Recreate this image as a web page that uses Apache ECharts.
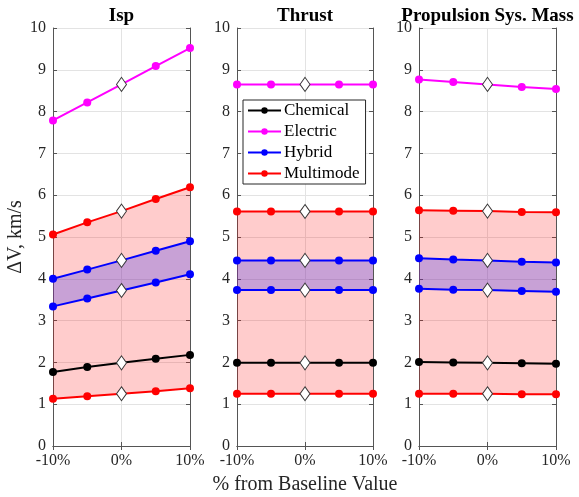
<!DOCTYPE html>
<html>
<head>
<meta charset="utf-8">
<script src="https://cdn.jsdelivr.net/npm/echarts@6/dist/echarts.min.js"></script>
<style>html,body{margin:0;padding:0;background:#fff;}#c{width:579px;height:497px;}</style>
</head>
<body>
<div id="c"></div>
<script>
// ---- data ----
const xCats = ['-10%', '-5%', '0%', '5%', '10%'];
const panelTitles = ['Isp', 'Thrust', 'Propulsion Sys. Mass'];
const yTicks = [0, 1, 2, 3, 4, 5, 6, 7, 8, 9, 10];

// Isp
const ispChemical = [1.77, 1.89, 1.99, 2.09, 2.18];
const ispElectric = [7.79, 8.22, 8.65, 9.09, 9.52];
const ispHybridHi = [4.00, 4.22, 4.44, 4.67, 4.90];
const ispHybridLo = [3.34, 3.53, 3.72, 3.91, 4.11];
const ispMultiHi = [5.06, 5.35, 5.62, 5.91, 6.19];
const ispMultiLo = [1.13, 1.19, 1.25, 1.31, 1.38];

// Thrust
const thrChemical = [1.99, 1.99, 1.99, 1.99, 1.99];
const thrElectric = [8.65, 8.65, 8.65, 8.65, 8.65];
const thrHybridHi = [4.44, 4.44, 4.44, 4.44, 4.44];
const thrHybridLo = [3.73, 3.73, 3.73, 3.73, 3.73];
const thrMultiHi = [5.61, 5.61, 5.61, 5.61, 5.61];
const thrMultiLo = [1.25, 1.25, 1.25, 1.25, 1.25];

// Propulsion Sys. Mass
const masChemical = [2.01, 2.00, 1.99, 1.98, 1.97];
const masElectric = [8.77, 8.71, 8.65, 8.59, 8.54];
const masHybridHi = [4.49, 4.46, 4.44, 4.41, 4.39];
const masHybridLo = [3.76, 3.74, 3.73, 3.71, 3.69];
const masMultiHi = [5.64, 5.63, 5.62, 5.60, 5.59];
const masMultiLo = [1.25, 1.25, 1.25, 1.24, 1.24];

const panels = [
  {chem: ispChemical, elec: ispElectric, hyHi: ispHybridHi, hyLo: ispHybridLo, mmHi: ispMultiHi, mmLo: ispMultiLo},
  {chem: thrChemical, elec: thrElectric, hyHi: thrHybridHi, hyLo: thrHybridLo, mmHi: thrMultiHi, mmLo: thrMultiLo},
  {chem: masChemical, elec: masElectric, hyHi: masHybridHi, hyLo: masHybridLo, mmHi: masMultiHi, mmLo: masMultiLo}
];

// ---- layout / style ----
const FONT = 'Liberation Serif';
const grids = [
  {left: 53, width: 137, top: 28, height: 418},
  {left: 237, width: 136, top: 28, height: 418},
  {left: 419, width: 137, top: 28, height: 418}
];
const colors = {Chemical: '#000000', Electric: '#ff00ff', Hybrid: '#0000ff', Multimode: '#ff0000'};
const frame = '#555555';
const txt = '#262626';

const xAxes = [], yAxes = [], series = [];
grids.forEach((g, i) => {
  xAxes.push({
    type: 'category', gridIndex: i, data: xCats, boundaryGap: false, position: 'bottom',
    axisLine: {show: true, lineStyle: {color: frame, width: 1}},
    axisTick: {show: true, inside: true, interval: 1, length: 4, lineStyle: {color: frame}},
    axisLabel: {interval: 1, color: txt, fontFamily: FONT, fontSize: 16, margin: 7},
    splitLine: {show: true, interval: 1, lineStyle: {color: '#e3e3e3', width: 1}},
    name: i === 1 ? '% from Baseline Value' : '', nameLocation: 'middle', nameGap: 29,
    nameTextStyle: {color: txt, fontFamily: FONT, fontSize: 20}
  });
  xAxes.push({
    type: 'category', gridIndex: i, data: xCats, boundaryGap: false, position: 'top',
    axisLine: {show: true, lineStyle: {color: frame, width: 1}},
    axisTick: {show: true, inside: true, interval: 1, length: 4, lineStyle: {color: frame}},
    axisLabel: {show: false}, splitLine: {show: false}
  });
  yAxes.push({
    type: 'value', gridIndex: i, min: yTicks[0], max: yTicks[yTicks.length - 1], interval: 1, position: 'left',
    axisLine: {show: true, lineStyle: {color: frame, width: 1}},
    axisTick: {show: true, inside: true, length: 4, lineStyle: {color: frame}},
    axisLabel: {color: txt, fontFamily: FONT, fontSize: 16, margin: 7},
    splitLine: {show: true, lineStyle: {color: '#e3e3e3', width: 1}},
    name: i === 0 ? 'ΔV, km/s' : '', nameLocation: 'middle', nameGap: 25, nameRotate: 90,
    nameTextStyle: {color: txt, fontFamily: FONT, fontSize: 20}
  });
  yAxes.push({
    type: 'value', gridIndex: i, min: yTicks[0], max: yTicks[yTicks.length - 1], interval: 1, position: 'right',
    axisLine: {show: true, lineStyle: {color: frame, width: 1}},
    axisTick: {show: true, inside: true, length: 4, lineStyle: {color: frame}},
    axisLabel: {show: false}, splitLine: {show: false}
  });
});

function diff(a, b) { return a.map((v, k) => +(v - b[k]).toFixed(4)); }

panels.forEach((p, i) => {
  const xi = i * 2, yi = i * 2;
  const hidden = {lineStyle: {opacity: 0}, showSymbol: false, symbol: 'none', silent: true, z: 1};
  series.push(Object.assign({type: 'line', name: 'mmBase' + i, xAxisIndex: xi, yAxisIndex: yi, stack: 'mm' + i, data: p.mmLo}, hidden));
  series.push(Object.assign({type: 'line', name: 'mmBand' + i, xAxisIndex: xi, yAxisIndex: yi, stack: 'mm' + i, data: diff(p.mmHi, p.mmLo), areaStyle: {color: 'rgba(255,0,0,0.2)', opacity: 1}}, hidden));
  series.push(Object.assign({type: 'line', name: 'hyBase' + i, xAxisIndex: xi, yAxisIndex: yi, stack: 'hy' + i, data: p.hyLo}, hidden));
  series.push(Object.assign({type: 'line', name: 'hyBand' + i, xAxisIndex: xi, yAxisIndex: yi, stack: 'hy' + i, data: diff(p.hyHi, p.hyLo), areaStyle: {color: 'rgba(72,64,237,0.3)', opacity: 1}}, hidden));

  const lines = [
    ['Chemical', p.chem], ['Electric', p.elec], ['Hybrid', p.hyHi], ['Hybrid', p.hyLo],
    ['Multimode', p.mmHi], ['Multimode', p.mmLo]
  ];
  lines.forEach(([nm, d]) => {
    series.push({
      type: 'line', name: nm, xAxisIndex: xi, yAxisIndex: yi, data: d,
      symbol: 'circle', symbolSize: 8, showSymbol: true,
      lineStyle: {color: colors[nm], width: 2},
      itemStyle: {color: colors[nm]}, z: 3, silent: true
    });
  });
  const base = lines.map(([nm, d]) => [xCats[2], d[2]]);
  series.push({
    type: 'scatter', name: 'baseline' + i, xAxisIndex: xi, yAxisIndex: yi, data: base,
    symbol: 'diamond', symbolSize: [10, 14],
    itemStyle: {color: '#ffffff', borderColor: '#3a3a3a', borderWidth: 1, opacity: 1}, z: 5, silent: true
  });
});

const chart = echarts.init(document.getElementById('c'), null, {renderer: 'canvas'});
chart.setOption({
  animation: false,
  backgroundColor: '#ffffff',
  grid: grids.map(g => Object.assign({containLabel: false, outerBoundsMode: 'none'}, g)),
  xAxis: xAxes,
  yAxis: yAxes,
  legend: {
    data: ['Chemical', 'Electric', 'Hybrid', 'Multimode'],
    orient: 'vertical', left: 243, top: 100,
    backgroundColor: '#ffffff', borderColor: '#262626', borderWidth: 1,
    padding: [2, 6, 2, 4], itemGap: 4, itemWidth: 33, itemHeight: 8,
    textStyle: {fontFamily: FONT, fontSize: 17, color: '#000', padding: [0, 0, 0, -2]},
    selectedMode: false
  },
  graphic: panelTitles.map((t, i) => ({
    type: 'text', x: grids[i].left + grids[i].width / 2, y: 16,
    style: {text: t, fontFamily: FONT, fontWeight: 'bold', fontSize: 19, fill: '#000', align: 'center', verticalAlign: 'middle'}
  })),
  series: series
});
</script>
</body>
</html>
